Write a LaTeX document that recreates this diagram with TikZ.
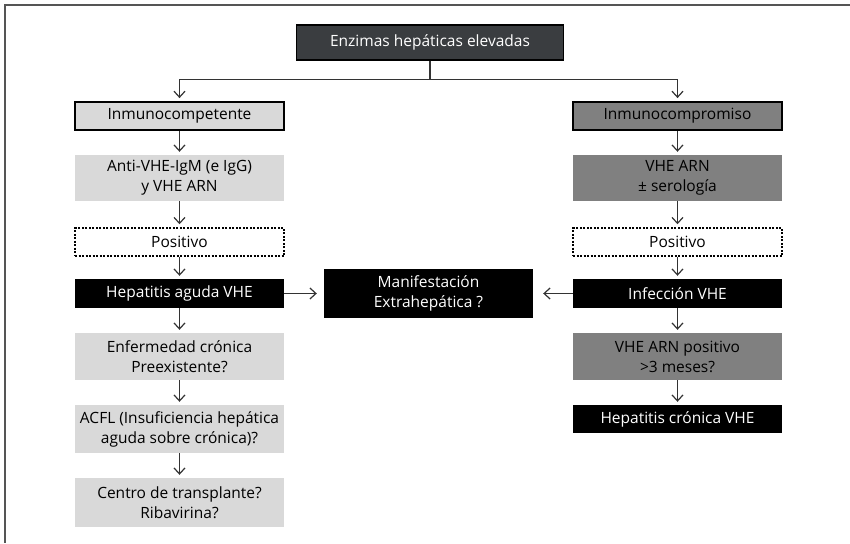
\documentclass[tikz,border=0pt]{standalone}
\usepackage{fontspec}
\setmainfont{Open Sans}
\usetikzlibrary{arrows.meta}
\definecolor{lightbox}{HTML}{D9D9D9}
\definecolor{midbox}{HTML}{808080}
\definecolor{topbox}{HTML}{3A3D40}
\definecolor{linecol}{HTML}{333333}
\definecolor{framecol}{HTML}{555555}
\tikzset{
  box/.style={rectangle, minimum width=209pt, inner sep=0pt, align=center,
    font=\fontsize{15.5pt}{20pt}\selectfont, text=black},
  light/.style={box, fill=lightbox},
  mid/.style={box, fill=midbox},
  dark/.style={box, fill=black, text=white},
  framed/.style={draw=black, line width=1.8pt},
  dotbox/.style={box, fill=white, draw=black, line width=1.5pt,
    dash pattern=on 2pt off 1.5pt},
  arr/.style={draw=linecol, line width=1.2pt,
    -{Straight Barb[length=6pt,width=11pt,line width=1.2pt]}, shorten >=3pt},
}
\begin{document}
\begin{tikzpicture}[x=1pt,y=-1pt]
\useasboundingbox (0,0) rectangle (850,543);
% outer frame: top and left rules
\draw[framecol, line width=1.6pt] (850,5) -- (5,5) -- (5,543);

% top node
\node[box, fill=topbox, text=white, draw=black, line width=1.2pt,
      minimum width=267pt, minimum height=35pt] (enz) at (430,42.5) {Enzimas hepáticas elevadas};

% left column
\node[light, framed, minimum height=28pt] (ic) at (179.5,116) {Inmunocompetente};
\node[light, minimum height=46pt] (anti) at (179.5,178) {Anti-VHE-IgM (e IgG)\\y VHE ARN};
\node[dotbox, minimum height=28pt] (posL) at (179.5,242) {Positivo};
\node[dark, minimum height=29pt] (hep) at (179.5,293.5) {Hepatitis aguda VHE};
\node[light, minimum height=47pt] (enf) at (179.5,356.5) {Enfermedad crónica\\Preexistente?};
\node[light, minimum height=48pt] (acfl) at (179.5,429) {ACFL (Insuficiencia hepática\\aguda sobre crónica)?};
\node[light, minimum height=49pt] (cen) at (179.5,502.5) {Centro de transplante?\\Ribavirina?};

% right column
\node[mid, framed, minimum height=28pt] (ip) at (677.5,116) {Inmunocompromiso};
\node[mid, minimum height=46pt] (vhe) at (677.5,178) {VHE ARN\\± serología};
\node[dotbox, minimum height=28pt] (posR) at (677.5,242) {Positivo};
\node[dark, minimum height=29pt] (inf) at (677.5,293.5) {Infección VHE};
\node[mid, minimum height=47pt] (vpos) at (677.5,356.5) {VHE ARN positivo\\>3 meses?};
\node[dark, minimum height=28pt] (hcr) at (677.5,419) {Hepatitis crónica VHE};

% middle
\node[dark, minimum height=49pt] (man) at (428.5,293.5) {Manifestación\\Extrahepática ?};

% connectors
\draw[arr] (enz.south) -- ++(0,19) -| (ic.north);
\draw[arr] (enz.south) -- ++(0,19) -| (ip.north);
\draw[arr] (ic) -- (anti);
\draw[arr] (anti) -- (posL);
\draw[arr] (posL) -- (hep);
\draw[arr] (hep) -- (enf);
\draw[arr] (enf) -- (acfl);
\draw[arr] (acfl) -- (cen);
\draw[arr] (ip) -- (vhe);
\draw[arr] (vhe) -- (posR);
\draw[arr] (posR) -- (inf);
\draw[arr] (inf) -- (vpos);
\draw[arr] (vpos) -- (hcr);
\draw[arr, shorten >=7pt] (hep.east) -- (hep.east -| man.west);
\draw[arr, shorten >=10pt] (inf.west) -- (inf.west -| man.east);
\end{tikzpicture}
\end{document}
